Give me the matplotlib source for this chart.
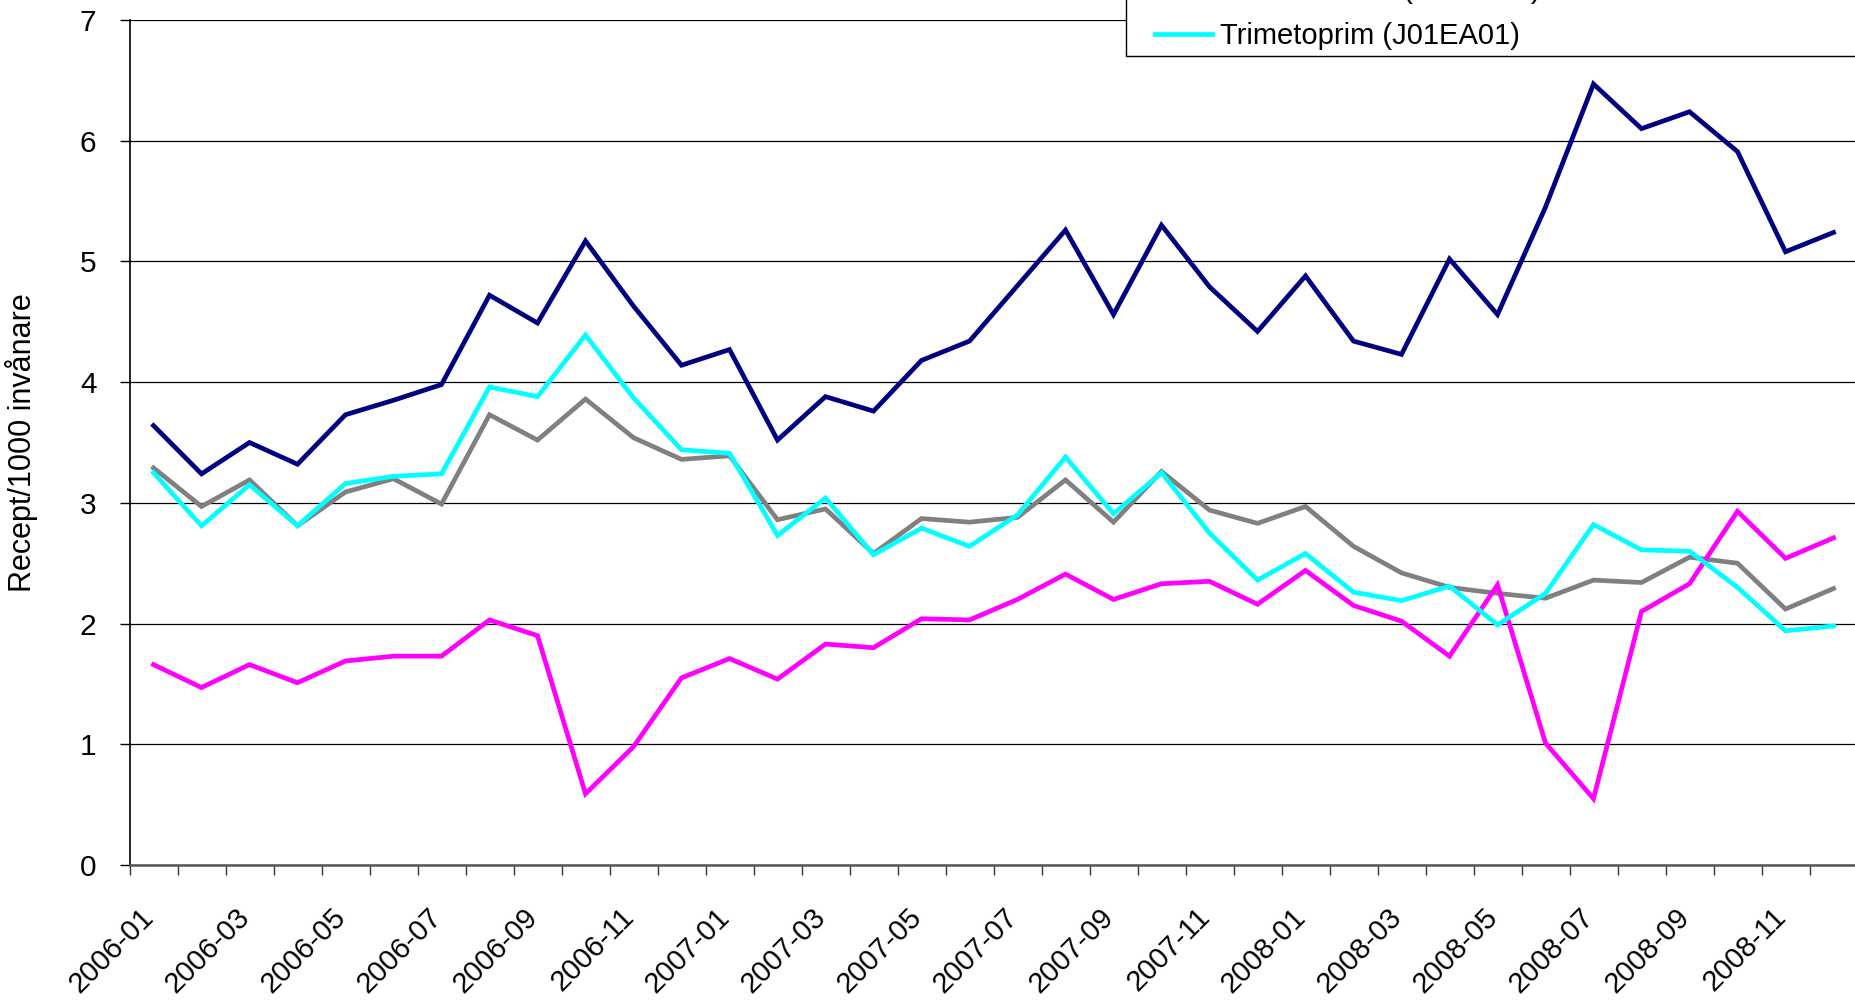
import matplotlib.pyplot as plt
import matplotlib.transforms as mtransforms
import numpy as np
import pandas as pd
from matplotlib.legend_handler import HandlerLine2D
from matplotlib.lines import Line2D

# ============================================================
# Data
# ============================================================

months = list(pd.period_range("2006-01", "2008-12", freq="M").strftime("%Y-%m"))

pivmecillinam = [
    3.64, 3.24, 3.50, 3.32, 3.73, 3.85, 3.98, 4.72, 4.49, 5.17, 4.63, 4.14,
    4.27, 3.52, 3.88, 3.76, 4.18, 4.34, 4.80, 5.26, 4.56, 5.30, 4.79, 4.42,
    4.88, 4.34, 4.23, 5.02, 4.56, 5.45, 6.47, 6.10, 6.24, 5.91, 5.08, 5.24,
]
ciprofloxacin = [
    3.29, 2.97, 3.19, 2.81, 3.09, 3.20, 2.99, 3.73, 3.52, 3.86, 3.54, 3.36,
    3.39, 2.86, 2.95, 2.58, 2.87, 2.84, 2.88, 3.19, 2.84, 3.26, 2.94, 2.83,
    2.97, 2.64, 2.42, 2.30, 2.25, 2.21, 2.36, 2.34, 2.55, 2.50, 2.12, 2.29,
]
nitrofurantoin = [
    1.66, 1.47, 1.66, 1.51, 1.69, 1.73, 1.73, 2.03, 1.90, 0.59, 0.98, 1.55,
    1.71, 1.54, 1.83, 1.80, 2.04, 2.03, 2.20, 2.41, 2.20, 2.33, 2.35, 2.16,
    2.44, 2.15, 2.02, 1.73, 2.32, 1.01, 0.55, 2.10, 2.33, 2.93, 2.54, 2.71,
]
trimetoprim = [
    3.25, 2.81, 3.15, 2.81, 3.16, 3.22, 3.24, 3.96, 3.88, 4.39, 3.87, 3.44,
    3.41, 2.73, 3.04, 2.57, 2.79, 2.64, 2.90, 3.38, 2.91, 3.25, 2.75, 2.36,
    2.58, 2.26, 2.19, 2.31, 1.99, 2.25, 2.82, 2.61, 2.60, 2.30, 1.94, 1.98,
]

series = [
    ("Pivmecillinam (J01CA08)", pivmecillinam, "#000080"),
    ("Ciprofloxacin (J01MA02)", ciprofloxacin, "#808080"),
    ("Nitrofurantoin (J01XE01)", nitrofurantoin, "#FF00FF"),
    ("Trimetoprim (J01EA01)", trimetoprim, "#00FFFF"),
]

# ============================================================
# Figure
# ============================================================

plt.rcParams["font.family"] = ["Liberation Sans", "DejaVu Sans"]
W, H = 1855, 1001
fig = plt.figure(figsize=(W / 100, H / 100), dpi=100)

ax_left, ax_right = 129.5, 1857.5
ax_top, ax_bottom = 20, 865
ax = fig.add_axes([
    ax_left / W,
    1 - ax_bottom / H,
    (ax_right - ax_left) / W,
    (ax_bottom - ax_top) / H,
])

x = np.arange(len(months))
for name, values, color in series:
    ax.plot(x, values, color=color, lw=3.4, label=name, solid_joinstyle="miter")

# ============================================================
# Axes styling
# ============================================================
ax.set_xlim(-0.5, len(months) - 0.5)
ax.set_ylim(0, 7)
ax.set_yticks(range(0, 8))
ax.yaxis.grid(True, color="black", lw=0.9)
ax.set_axisbelow(True)

for side in ["top", "right"]:
    ax.spines[side].set_visible(False)
ax.spines["left"].set_color("black")
ax.spines["left"].set_linewidth(1.2)
ax.spines["bottom"].set_color("#555555")
ax.spines["bottom"].set_linewidth(1.8)

ax.tick_params(axis="y", length=7.2, width=1, pad=16.5, labelsize=21.5)

# major ticks on category boundaries, labels at category centres
ax.set_xticks(np.arange(-0.5, len(months) - 0.5, 1.0))
ax.set_xticklabels([])
ax.tick_params(axis="x", which="major", length=7.2, width=1, color="#333333")
ax.set_xticks(x[::2], minor=True)
ax.set_xticklabels(months[::2], minor=True)
ax.tick_params(axis="x", which="minor", length=0, pad=34.5, labelsize=21)
shift = mtransforms.ScaledTranslation(-4 / 100, 0, fig.dpi_scale_trans)
for lab in ax.get_xticklabels(minor=True):
    lab.set_rotation(45)
    lab.set_ha("right")
    lab.set_va("center")
    lab.set_rotation_mode("anchor")
    lab.set_transform(lab.get_transform() + shift)

ax.set_ylabel("Recept/1000 invånare", fontsize=22)
ax.yaxis.set_label_coords((38 - ax_left) / (ax_right - ax_left), 0.5)

# ============================================================
# Legend (top part falls outside the figure)
# ============================================================
handles, labels = ax.get_legend_handles_labels()
leg = fig.legend(
    handles,
    labels,
    loc="lower left",
    bbox_to_anchor=(1126 / W, 1 - 55.5 / H, 0.45, 0.3),
    mode="expand",
    borderaxespad=0,
    fontsize=21,
    frameon=True,
    fancybox=False,
    edgecolor="black",
    framealpha=1,
    borderpad=0.18,
    labelspacing=0.62,
    handlelength=2.77,
    handletextpad=0.27,
    handler_map={Line2D: HandlerLine2D(xpad=0.82)},
)
leg.get_frame().set_linewidth(1.0)

fig.savefig("out.png", dpi=100)
